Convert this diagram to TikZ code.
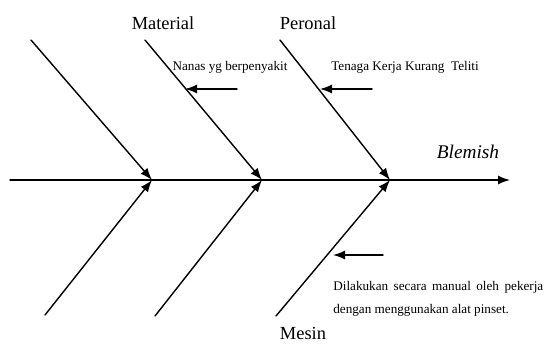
\documentclass[tikz,border=0pt]{standalone}
\usepackage{fontspec}
\setmainfont{Liberation Serif}
\usetikzlibrary{arrows.meta}
\tikzset{
  bone/.style={line width=.8pt,-{Latex[length=2.4mm,width=1.8mm]}},
  pointer/.style={line width=.8pt,-{Latex[length=2.4mm,width=1.8mm]}},
  head/.style={font=\fontsize{10.5}{12}\selectfont,inner sep=0pt},
  cause/.style={font=\fontsize{7.5}{13}\selectfont,inner sep=0pt}
}
\begin{document}
\begin{tikzpicture}[x=.02cm,y=-.02cm,line cap=round,line join=round]
  \useasboundingbox (0,0) rectangle (544,343);
  % spine and joints
  \coordinate (tail) at (10,180);
  \coordinate (tip) at (510,180);
  \foreach \n/\x in {a/152,b/262,c/390} \coordinate (j\n) at (\x,180);
  % bone ends
  \coordinate (ua) at (31,40);
  \coordinate (ub) at (145,40);
  \coordinate (uc) at (280,40);
  \coordinate (la) at (45,315);
  \coordinate (lb) at (155,316);
  \coordinate (lc) at (276,316);
  \draw[bone] (tail) -- (tip);
  \foreach \n in {a,b,c} {
    \draw[bone] (u\n) -- (j\n);
    \draw[bone] (l\n) -- (j\n);
  }
  % headings
  \node[head] (material) at (163,23) {Material};
  \node[head] (peronal) at (308,23) {Peronal};
  \node[head] (mesin) at (303,333) {Mesin};
  \node[head,font=\fontsize{11}{12}\selectfont\itshape] (blemish) at (468,152) {Blemish};
  % causes
  \node[cause] (nanas) at (230,67) {Nanas yg berpenyakit};
  \node[cause] (tenaga) at (405,67) {Tenaga Kerja Kurang\ \ Teliti};
  \node[cause,anchor=north west,align=left] (manual) at (333,281)
    {\makebox[4.2cm][s]{Dilakukan secara manual oleh pekerja}\\dengan menggunakan alat pinset.};
  \coordinate (pa) at (237,89);
  \coordinate (pb) at (372,89);
  \coordinate (pc) at (383,255);
  \draw[pointer] (pa) -- ++(-52,0) coordinate (qa);
  \draw[pointer] (pb) -- ++(-52,0) coordinate (qb);
  \draw[pointer] (pc) -- ++(-50,0) coordinate (qc);
\end{tikzpicture}
\end{document}
